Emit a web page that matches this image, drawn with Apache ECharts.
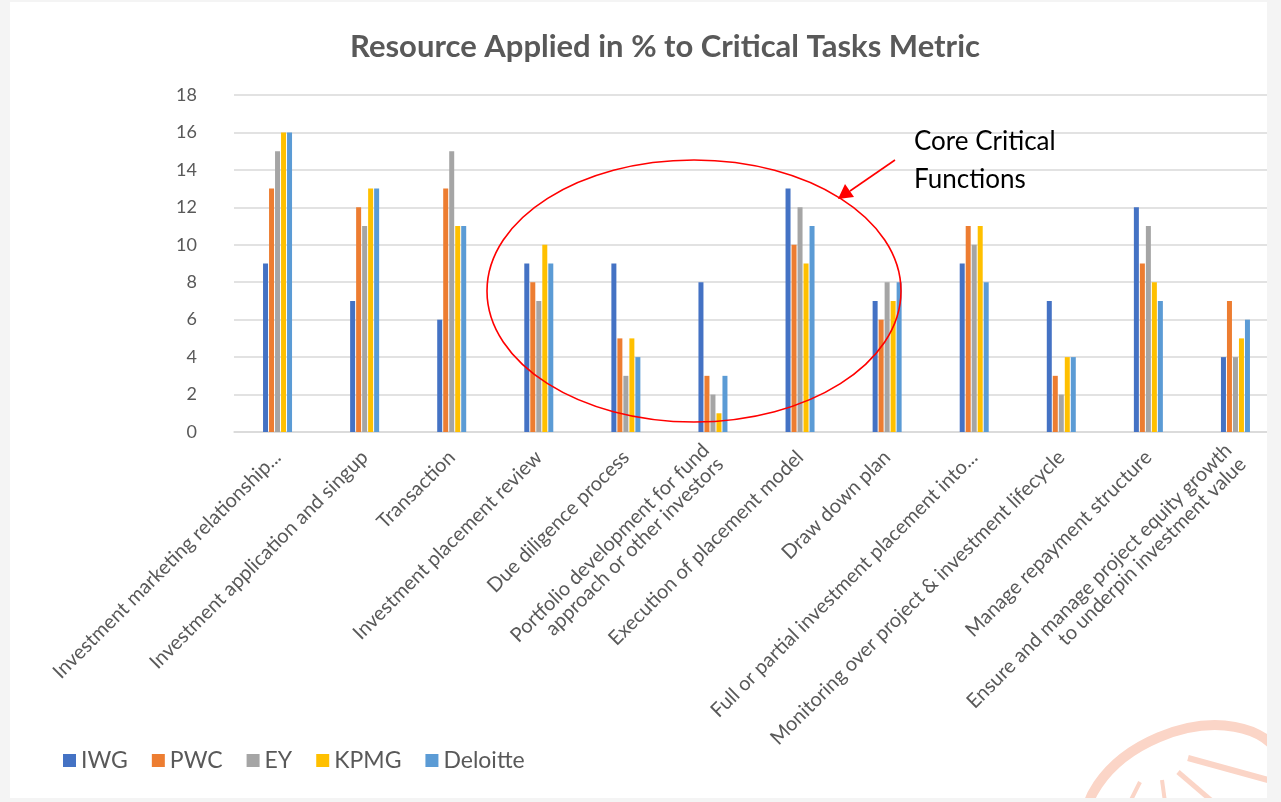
<!DOCTYPE html>
<html>
<head>
<meta charset="utf-8">
<title>Resource Applied in % to Critical Tasks Metric</title>
<script src="https://cdn.jsdelivr.net/npm/echarts@6/dist/echarts.min.js"></script>
<style>
  html, body { margin: 0; padding: 0; background: #f4f4f4; }
  #chart { width: 1281px; height: 802px; }
</style>
</head>
<body>
<div id="chart"></div>
<script>
// task categories (x axis)
const categories = [
  'Investment marketing relationship...',
  'Investment application and singup',
  'Transaction',
  'Investment placement review',
  'Due diligence process',
  'Portfolio development for fund\napproach or other investors',
  'Execution of placement model',
  'Draw down plan',
  'Full or partial investment placement into...',
  'Monitoring over project & investment lifecycle',
  'Manage repayment structure',
  'Ensure and manage project equity growth\nto underpin investment value'
]

// % of resource per firm
const iwg      = [9, 7, 6, 9, 9, 8, 13, 7, 9, 7, 12, 4]
const pwc      = [13, 12, 13, 8, 5, 3, 10, 6, 11, 3, 9, 7]
const ey       = [15, 11, 15, 7, 3, 2, 12, 8, 10, 2, 11, 4]
const kpmg     = [16, 13, 11, 10, 5, 1, 9, 7, 11, 4, 8, 5]
const deloitte = [16, 13, 11, 9, 4, 3, 11, 8, 8, 4, 7, 6]

const firms = ['IWG', 'PWC', 'EY', 'KPMG', 'Deloitte']
const colors = ['#4472C4', '#ED7D31', '#A5A5A5', '#FFC000', '#5B9BD5']

const font = 'Lato, "Open Sans", sans-serif'
const textColor = '#595959'
const markColor = '#fbd5c7' // watermark

const chart = echarts.init(document.getElementById('chart'))

function makeSeries(name, data, idx) {
  return {
    name: name,
    type: 'bar',
    data: data,
    barWidth: 5,
    barGap: '20%',
    itemStyle: { color: colors[idx] },
    animation: false
  }
}

chart.setOption({
  textStyle: { fontFamily: font },
  title: {
    text: 'Resource Applied in % to Critical Tasks Metric',
    left: 660,
    top: 26,
    textAlign: 'center',
    textStyle: {
      fontFamily: font,
      fontSize: 31,
      fontWeight: 'bold',
      color: textColor
    }
  },
  legend: {
    data: firms,
    left: 58,
    top: 744,
    icon: 'rect',
    itemWidth: 13,
    itemHeight: 13,
    itemGap: 24,
    textStyle: { fontFamily: font, fontSize: 23, color: textColor }
  },
  grid: {
    left: 234,
    top: 95,
    width: 1045,
    bottom: 370,
    containLabel: false
  },
  xAxis: {
    type: 'category',
    data: categories,
    axisTick: { show: false },
    axisLine: { lineStyle: { color: '#d9d9d9', width: 1.5 } },
    axisLabel: {
      interval: 0,
      rotate: 45,
      margin: 22,
      fontFamily: font,
      fontSize: 20,
      color: textColor
    }
  },
  yAxis: {
    type: 'value',
    min: 0,
    max: 18,
    interval: 2,
    axisLine: { show: false },
    axisTick: { show: false },
    axisLabel: { margin: 37, fontFamily: font, fontSize: 18, color: textColor },
    splitLine: { lineStyle: { color: '#d9d9d9', width: 1.5 } }
  },
  series: [
    makeSeries('IWG', iwg, 0),
    makeSeries('PWC', pwc, 1),
    makeSeries('EY', ey, 2),
    makeSeries('KPMG', kpmg, 3),
    makeSeries('Deloitte', deloitte, 4)
  ],
  graphic: [
    // white slide panel
    {
      type: 'rect', z: -10, silent: true,
      shape: { x: 10, y: 2, width: 1257, height: 796 },
      style: { fill: '#ffffff' }
    },
    // watermark fragment bottom right
    {
      type: 'ellipse', z: 50, silent: true,
      x: 1185, y: 800, rotation: 0.4,
      shape: { cx: 0, cy: 0, rx: 105, ry: 68 },
      style: { fill: null, stroke: markColor, lineWidth: 10 }
    },
    {
      type: 'line', z: 50, silent: true,
      shape: { x1: 1188, y1: 758, x2: 1268, y2: 780 },
      style: { stroke: markColor, lineWidth: 6 }
    },
    {
      type: 'line', z: 50, silent: true,
      shape: { x1: 1178, y1: 772, x2: 1213, y2: 802 },
      style: { stroke: markColor, lineWidth: 5 }
    },
    {
      type: 'line', z: 50, silent: true,
      shape: { x1: 1162, y1: 780, x2: 1165, y2: 802 },
      style: { stroke: markColor, lineWidth: 4 }
    },
    {
      type: 'line', z: 50, silent: true,
      shape: { x1: 1140, y1: 782, x2: 1130, y2: 802 },
      style: { stroke: markColor, lineWidth: 4 }
    },
    // right and bottom edges of slide (crop)
    {
      type: 'rect', z: 100, silent: true,
      shape: { x: 1267, y: 0, width: 14, height: 802 },
      style: { fill: '#f4f4f4' }
    },
    {
      type: 'rect', z: 100, silent: true,
      shape: { x: 0, y: 798, width: 1281, height: 4 },
      style: { fill: '#f4f4f4' }
    },
    // annotation: ellipse round core functions
    {
      type: 'ellipse', z: 60, silent: true,
      shape: { cx: 694, cy: 291, rx: 207, ry: 131 },
      style: { fill: null, stroke: '#ff0000', lineWidth: 1.6 }
    },
    {
      type: 'line', z: 60, silent: true,
      shape: { x1: 895, y1: 160, x2: 850, y2: 191 },
      style: { stroke: '#ff0000', lineWidth: 1.6 }
    },
    {
      type: 'polygon', z: 60, silent: true,
      shape: { points: [[838, 199], [845, 184], [854, 197]] },
      style: { fill: '#ff0000' }
    },
    {
      type: 'text', z: 60, silent: true,
      left: 914, top: 123,
      style: {
        text: 'Core Critical\nFunctions',
        font: '26px ' + font,
        fill: '#000000',
        lineHeight: 38
      }
    }
  ]
})
</script>
</body>
</html>
